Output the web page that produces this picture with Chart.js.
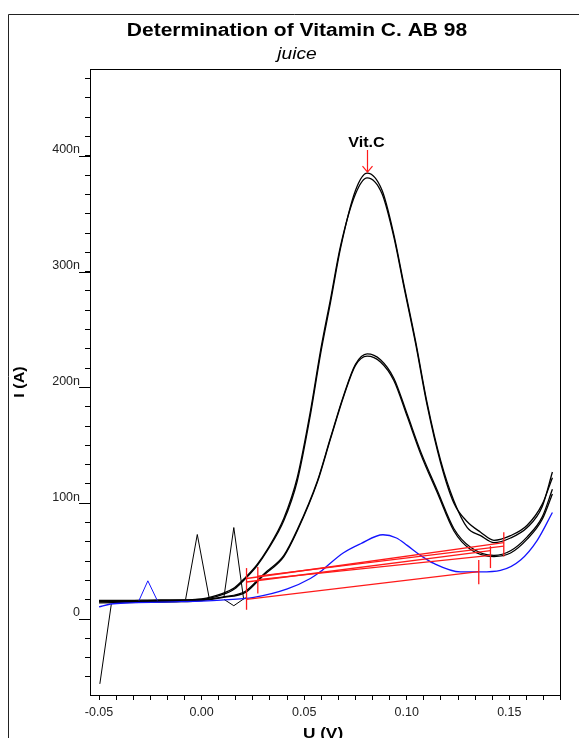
<!DOCTYPE html>
<html>
<head>
<meta charset="utf-8">
<script src="https://cdn.jsdelivr.net/npm/chart.js"></script>
<style>
  html, body { margin: 0; padding: 0; background: #fff; }
</style>
</head>
<body>
<canvas id="vitc" width="579" height="738"></canvas>
<script>
// potentials in V, currents in nA

// tall Vit.C peak (two overlaid scans)
const tallU  = [-0.05, -0.04, -0.02, 0.0, 0.01, 0.016, 0.0214, 0.027, 0.032, 0.0401, 0.0466, 0.0531, 0.058, 0.0629, 0.0677, 0.075, 0.0807, 0.088, 0.0937, 0.0986, 0.1043, 0.110, 0.1165, 0.123, 0.1295, 0.136, 0.1425, 0.1506, 0.1587, 0.166, 0.171];
const tallI1 = [16, 16, 16.5, 17, 21, 26, 35, 46, 59, 85, 119, 177, 229, 274, 320, 370, 385, 370, 332, 289, 240, 186, 137, 102, 79, 72, 66, 70, 79, 97, 127];
const tallI2 = [15, 15.5, 16, 17.5, 22, 27, 36, 47, 60, 87, 122, 180, 232, 277, 322, 367, 381, 367, 330, 287, 238, 184, 135, 100, 84, 75, 68, 72, 81, 99, 122];

// medium peak (two overlaid scans)
const medU  = [-0.05, -0.03, -0.01, 0.0, 0.01, 0.0214, 0.027, 0.0304, 0.0401, 0.0466, 0.0564, 0.0629, 0.0694, 0.075, 0.0807, 0.0872, 0.0937, 0.1002, 0.1067, 0.1149, 0.123, 0.1311, 0.1425, 0.1506, 0.1587, 0.166, 0.171];
const medI1 = [15, 15, 15.5, 16.5, 19, 24, 33, 39, 55, 77, 119, 157, 194, 220, 229, 224, 208, 177, 145, 111, 78, 62, 55, 59, 71, 88, 112];
const medI2 = [14, 14.5, 15, 16, 18.5, 23, 32, 38, 54, 76, 118, 156, 193, 219, 227, 222, 206, 175, 143, 109, 76, 60, 54, 57, 69, 86, 108];

// blank / blue scan
const blueU = [-0.05, -0.0443, -0.035, -0.01, 0.0, 0.0093, 0.0255, 0.0418, 0.053, 0.058, 0.0613, 0.069, 0.0775, 0.0884, 0.095, 0.1002, 0.1067, 0.1132, 0.1262, 0.136, 0.1457, 0.1555, 0.1636, 0.171];
const blueI = [10.5, 13, 14, 15, 15.5, 16.3, 18.7, 26, 35, 41, 46, 57, 65, 72.8, 70, 63.6, 55, 48, 40.7, 40.7, 42, 51, 68, 92];

// noise spikes at the start of the scans
const spike1U = [-0.0078, -0.0021, 0.0036];
const spike1I = [17, 73, 19];
const spike2U = [0.0109, 0.0157, 0.0205];
const spike2I = [19, 79, 17];
const dipU    = [0.0109, 0.0157, 0.0214];
const dipI    = [17, 11.5, 18.5];
const blueSpikeU = [-0.0305, -0.0262, -0.0216];
const blueSpikeI = [16, 33, 16];
const dropU   = [-0.0496, -0.044];
const dropI   = [-56, 13];

// peak baselines: start and end points
const baseStartU = [0.0219, 0.0274, 0.0219, 0.0274, 0.0219];
const baseStartI = [35, 37, 32, 34, 17];
const baseEndU   = [0.1473, 0.1473, 0.1408, 0.1408, 0.1351];
const baseEndI   = [66, 63, 59, 55, 41];

// vertical baseline markers
const markU  = [0.0219, 0.0274, 0.1351, 0.1408, 0.1473];
const markLo = [8, 22, 30, 44, 54];
const markHi = [44, 45, 51, 63, 75];

// peak label
const peakLabel = 'Vit.C';
const peakU = 0.0807;
const arrowTopI = 405;
const arrowTipI = 386;

const FONT = '"Liberation Sans", Arial, sans-serif';
const pts = (u, i) => u.map((v, k) => ({ x: v, y: i[k] }));

function curve(u, i, color, order) {
  return { data: pts(u, i), borderColor: color, borderWidth: 1.3, pointRadius: 0,
           cubicInterpolationMode: 'monotone', tension: 0.4, fill: false, order: order };
}
function straight(u, i, color, order, w) {
  return { data: pts(u, i), borderColor: color, borderWidth: w || 1.2, pointRadius: 0,
           tension: 0, fill: false, order: order };
}

const datasets = [];
baseStartU.forEach((u, k) => {
  datasets.push(straight([u, baseEndU[k]], [baseStartI[k], baseEndI[k]], '#ff1a1a', 1, 1.3));
});
markU.forEach((u, k) => {
  datasets.push(straight([u, u], [markLo[k], markHi[k]], '#ff1a1a', 0, 1.3));
});
datasets.push(curve(blueU, blueI, '#1414ff', 3));
datasets.push(straight(blueSpikeU, blueSpikeI, '#1414ff', 3, 1));
datasets.push(curve(tallU, tallI1, '#000', 4));
datasets.push(curve(tallU, tallI2, '#000', 4));
datasets.push(curve(medU, medI1, '#000', 4));
datasets.push(curve(medU, medI2, '#000', 4));
datasets.push(straight(spike1U, spike1I, '#000', 4, 1));
datasets.push(straight(spike2U, spike2I, '#000', 4, 1));
datasets.push(straight(dipU, dipI, '#000', 4, 1));
datasets.push(straight(dropU, dropI, '#000', 4, 1));

const xTicks = [];
for (let k = 0; k <= 27; k++) xTicks.push(-0.05 + k * 0.05 / 6);
const yTicks = [];
for (let k = -3; k <= 28; k++) yTicks.push(k * 100 / 6);

// text drawn a bit wider than the font, like the original bitmap font
function wideText(ctx, text, x, y, font, sx) {
  ctx.save();
  ctx.translate(x, y);
  ctx.scale(sx, 1);
  ctx.font = font;
  ctx.fillText(text, 0, 0);
  ctx.restore();
}

const decor = {
  id: 'decor',
  afterDraw(chart) {
    const { ctx, chartArea: a, scales: { x, y } } = chart;
    ctx.save();
    ctx.strokeStyle = '#000';
    ctx.lineWidth = 1;
    ctx.strokeRect(Math.round(a.left) + 0.5, Math.round(a.top) + 0.5, Math.round(a.width), Math.round(a.height));

    // longer lead-in under the labelled current ticks
    y.ticks.forEach((t, k) => {
      if ((k + 3) % 6 === 0 && k !== 0) {
        const py = Math.round(y.getPixelForValue(t.value)) + 0.5;
        ctx.beginPath(); ctx.moveTo(a.left - 11, py); ctx.lineTo(a.left, py); ctx.stroke();
      }
    });

    // outer frame
    ctx.strokeStyle = '#222';
    ctx.beginPath(); ctx.moveTo(8.5, 740); ctx.lineTo(8.5, 14.5); ctx.lineTo(580, 14.5); ctx.stroke();

    // titles
    ctx.fillStyle = '#000';
    ctx.textAlign = 'center';
    ctx.textBaseline = 'alphabetic';
    wideText(ctx, 'Determination of Vitamin C. AB 98', 297, 35.5, 'bold 17.5px ' + FONT, 1.2);
    wideText(ctx, 'juice', 297, 59, 'italic 16px ' + FONT, 1.2);

    wideText(ctx, 'U (V)', (a.left + a.right) / 2 - 2, 738, 'bold 15px ' + FONT, 1.15);
    ctx.save();
    ctx.translate(24, 382);
    ctx.rotate(-Math.PI / 2);
    wideText(ctx, 'I (A)', 0, 0, 'bold 14px ' + FONT, 1.15);
    ctx.restore();

    // Vit.C peak marker
    const px = Math.round(x.getPixelForValue(peakU)) + 0.5;
    const top = y.getPixelForValue(arrowTopI);
    const tip = y.getPixelForValue(arrowTipI);
    ctx.strokeStyle = '#ff1a1a';
    ctx.lineWidth = 1.2;
    ctx.beginPath();
    ctx.moveTo(px, top); ctx.lineTo(px, tip);
    ctx.moveTo(px - 5, tip - 6); ctx.lineTo(px, tip); ctx.lineTo(px + 5, tip - 6);
    ctx.stroke();
    ctx.fillStyle = '#000';
    wideText(ctx, peakLabel, px - 1, top - 3, 'bold 14px ' + FONT, 1.15);
    ctx.restore();
  }
};

new Chart(document.getElementById('vitc'), {
  type: 'line',
  data: { datasets: datasets },
  plugins: [decor],
  options: {
    responsive: false,
    animation: false,
    devicePixelRatio: 1,
    layout: { padding: { top: 69, right: 19, left: 0, bottom: 0 } },
    plugins: { legend: { display: false }, tooltip: { enabled: false } },
    scales: {
      x: {
        type: 'linear',
        min: -0.0544,
        max: 0.1747,
        afterBuildTicks: s => { s.ticks = xTicks.map(v => ({ value: v })); },
        afterFit: s => { s.height = 43; },
        grid: { drawOnChartArea: false, drawTicks: true, tickLength: 5, color: '#000' },
        border: { display: true, color: '#000' },
        ticks: {
          autoSkip: false, maxRotation: 0, padding: 5,
          color: '#222', font: { family: FONT, size: 12.5 },
          callback: (v, k) => (k % 6 === 0 ? (Math.round(v * 100) / 100).toFixed(2) : '')
        }
      },
      y: {
        type: 'linear',
        min: -65.6,
        max: 475,
        afterBuildTicks: s => { s.ticks = yTicks.map(v => ({ value: v })); },
        afterFit: s => { s.width = 90; },
        grid: { drawOnChartArea: false, drawTicks: true, tickLength: 5, color: '#000' },
        border: { display: true, color: '#000' },
        ticks: {
          autoSkip: false, padding: 5, labelOffset: -6,
          color: '#222', font: { family: FONT, size: 12.5 },
          callback: (v, k) => {
            if ((k + 3) % 6 !== 0 || k === 0) return '';
            const r = Math.round(v);
            return r === 0 ? '0' : r + 'n';
          }
        }
      }
    }
  }
});
</script>
</body>
</html>
